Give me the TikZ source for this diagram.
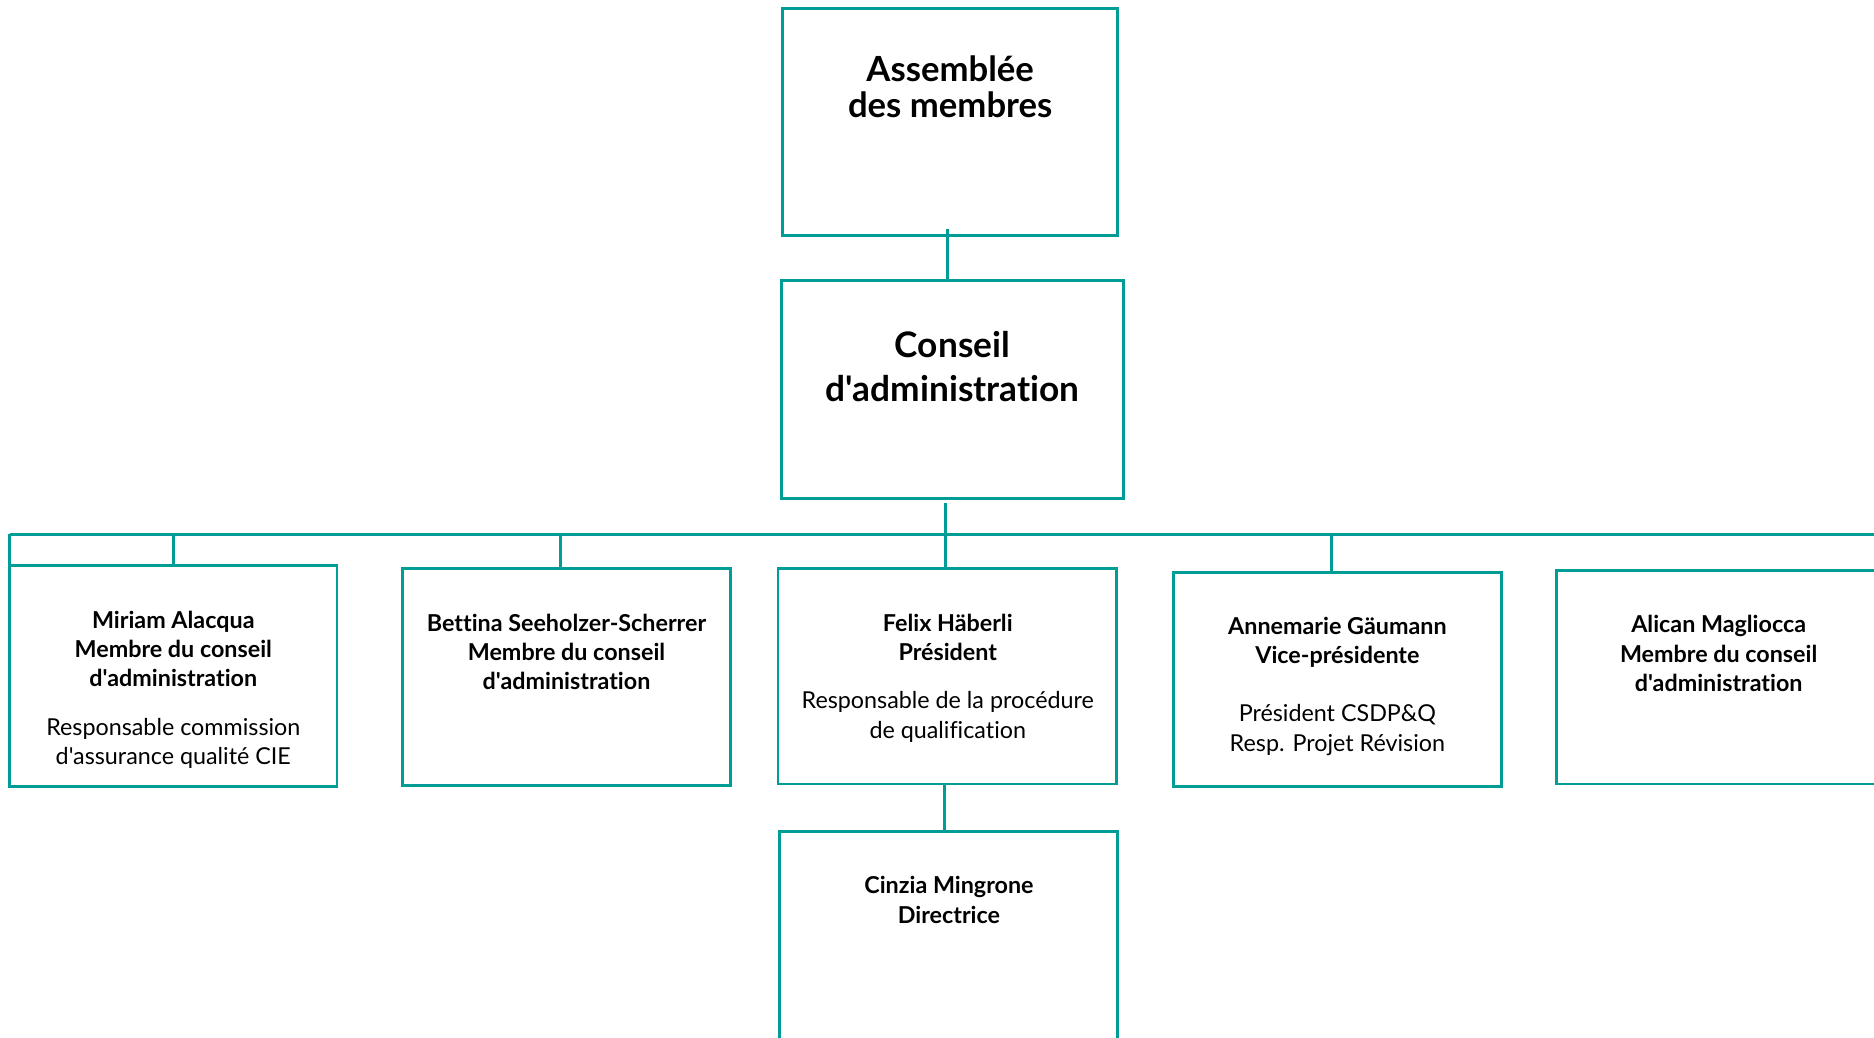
\documentclass[tikz,border=0pt]{standalone}
\usepackage{fontspec}
\setmainfont{Lato}[Ligatures={TeXOff,CommonOff}]
\definecolor{tealline}{RGB}{0,156,150}
\newcommand{\lns}[1]{\begin{tabular}[t]{@{}c@{}}#1\end{tabular}}
\begin{document}
\begin{tikzpicture}[x=1pt,y=-1pt,
  box/.style={draw=tealline, line width=2.4pt, rectangle, inner sep=0pt, outer sep=0pt},
  conn/.style={draw=tealline, line width=2.4pt},
  small/.style={anchor=base, inner sep=0pt, font=\fontsize{19.5}{24.5}\selectfont},
  title/.style={anchor=base, inner sep=0pt}]
\clip (0,0) rectangle (1568,868.5);
\fill[white] (0,0) rectangle (1568,868.5);

% boxes
\node[box, minimum width=280, minimum height=190] (assemb) at (795,102) {};
\node[box, minimum width=286, minimum height=182] (conseil) at (797,326) {};
\node[box, minimum width=274, minimum height=185] (miriam) at (145,565.5) {};
\node[box, minimum width=274, minimum height=181] (bettina) at (474,566.5) {};
\node[box, minimum width=283, minimum height=180] (felix) at (792.5,566) {};
\node[box, minimum width=274, minimum height=179] (anne) at (1119,568.5) {};
\node[box, minimum width=274, minimum height=179] (alican) at (1439,566.5) {};
\node[box, minimum width=283, minimum height=186] (cinzia) at (793.5,789) {};

% texts
\node[title, font=\fontsize{29}{29.2}\selectfont\bfseries] (assembT) at (795,68.4)
  {\lns{Assemblée\\des membres}};
\node[title, font=\fontsize{29.5}{37}\selectfont\bfseries] (conseilT) at (797,299)
  {\lns{Conseil\\d'administration}};
\node[small] (miriamT) at (145,525.5)
  {\lns{\bfseries Miriam Alacqua\\\bfseries Membre du conseil\\\bfseries d'administration\\[16pt]
   Responsable commission\\d'assurance qualité CIE}};
\node[small] (bettinaT) at (474,528)
  {\lns{\bfseries Bettina Seeholzer-Scherrer\\\bfseries Membre du conseil\\\bfseries d'administration}};
\node[small] (felixT) at (793,528)
  {\lns{\bfseries Felix Häberli\\\bfseries Président\\[16pt]
   Responsable de la procédure\\de qualification}};
\node[small] (anneT) at (1119,531)
  {\lns{\bfseries Annemarie Gäumann\\\bfseries Vice-présidente\\[24pt]
   Président CSDP\&Q\\Resp. Projet Révision}};
\node[small] (alicanT) at (1438,529.5)
  {\lns{\bfseries Alican Magliocca\\\bfseries Membre du conseil\\\bfseries d'administration}};
\node[small] (cinziaT) at (794,748)
  {\lns{\bfseries Cinzia Mingrone\\\bfseries Directrice}};

% bus
\coordinate (busL) at (8,447);
\coordinate (busR) at (1580,447);
\coordinate (busC) at (791,447);

% connectors
\draw[conn] ([shift={(-2pt,5pt)}]assemb.south) -- ([xshift=-2pt]assemb.south |- conseil.north);
\draw[conn] (busL) -- (busR);
\draw[conn] ([yshift=-4pt]conseil.south -| busC) -- (busC);
\draw[conn] (miriam.north west) -- (busL);
\draw[conn] (miriam.north) -- (miriam.north |- busL);
\draw[conn] ([xshift=-5pt]bettina.north) -- ([xshift=-5pt]bettina.north |- busL);
\draw[conn] (felix.north -| busC) -- (busC);
\draw[conn] ([xshift=-5pt]anne.north) -- ([xshift=-5pt]anne.north |- busL);
\draw[conn] ([shift={(-2.5pt,1pt)}]felix.south) -- ([xshift=-2.5pt]felix.south |- cinzia.north);
\end{tikzpicture}
\end{document}
